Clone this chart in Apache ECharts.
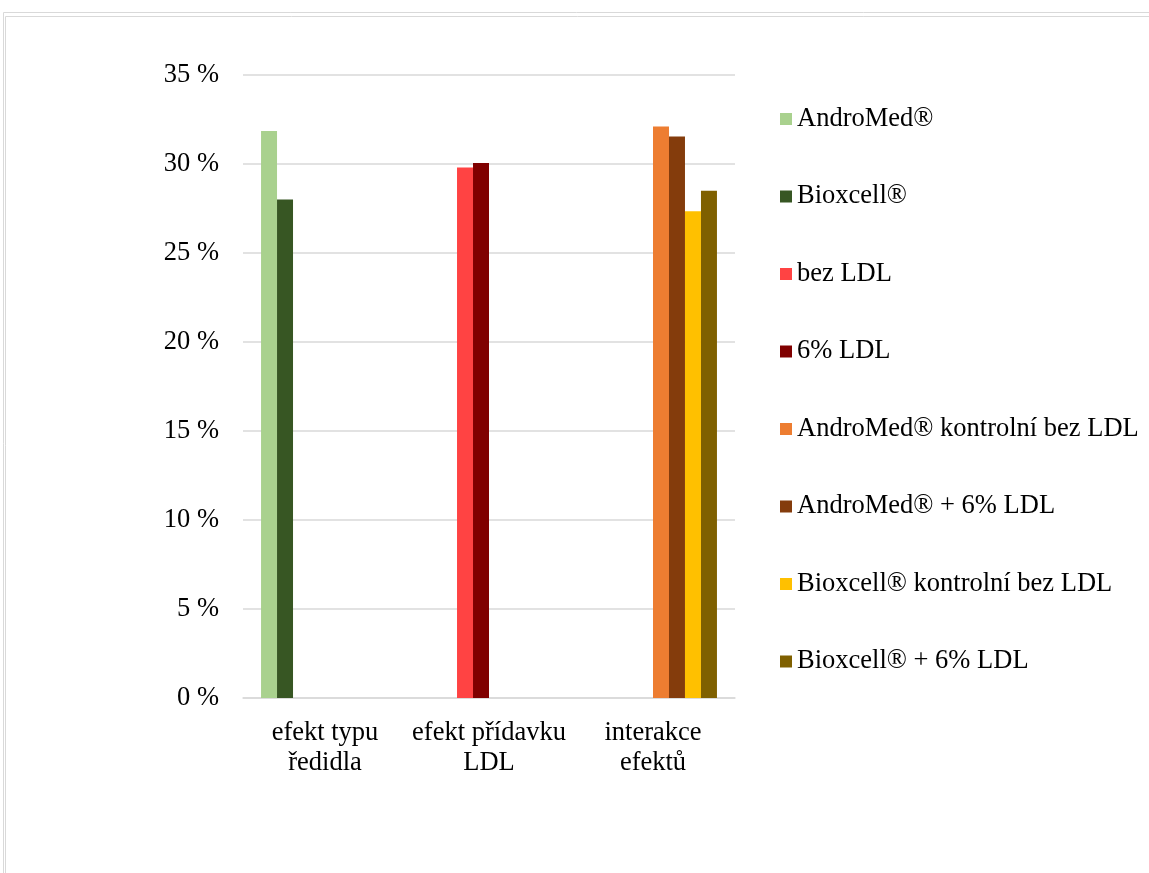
<!DOCTYPE html>
<html>
<head>
<meta charset="utf-8">
<script src="https://cdn.jsdelivr.net/npm/echarts@6/dist/echarts.min.js"></script>
<style>
  html, body { margin: 0; padding: 0; background: #fff; }
  #chart { width: 1149px; height: 873px; }
</style>
</head>
<body>
<div id="chart"></div>
<script>
const categories = ['efekt typu\nředidla', 'efekt přídavku\nLDL', 'interakce\nefektů']
const seriesNames = [
  'AndroMed®',
  'Bioxcell®',
  'bez LDL',
  '6% LDL',
  'AndroMed® kontrolní bez LDL',
  'AndroMed® + 6% LDL',
  'Bioxcell® kontrolní bez LDL',
  'Bioxcell® + 6% LDL'
]
const seriesColors = ['#A9D18E', '#375623', '#FF4343', '#800000', '#ED7D31', '#843C0C', '#FFC000', '#7F6000']
// values in %, one per category (null = no bar)
const andromed = [31.85, null, null]
const bioxcell = [28.0, null, null]
const bezLdl = [null, 29.8, null]
const ldl6 = [null, 30.05, null]
const andromedKontrol = [null, null, 32.1]
const andromedLdl = [null, null, 31.55]
const bioxcellKontrol = [null, null, 27.35]
const bioxcellLdl = [null, null, 28.5]
const yTicks = [0, 5, 10, 15, 20, 25, 30, 35]

const seriesData = [andromed, bioxcell, bezLdl, ldl6, andromedKontrol, andromedLdl, bioxcellKontrol, bioxcellLdl]

const font = '"Liberation Serif", "DejaVu Serif", serif'
const fs = 26.5
const chart = echarts.init(document.getElementById('chart'))

chart.setOption({
  animation: false,
  textStyle: { fontFamily: font },
  graphic: [
    { type: 'rect', shape: { x: 3.5, y: 12.5, width: 1200, height: 900 }, style: { fill: 'none', stroke: '#d9d9d9', lineWidth: 1 } },
    { type: 'rect', shape: { x: 5.5, y: 16.5, width: 1200, height: 900 }, style: { fill: 'none', stroke: '#d9d9d9', lineWidth: 1 } }
  ],
  grid: { left: 243, right: 1149 - 735, top: 75, bottom: 873 - 698 },
  legend: {
    orient: 'vertical',
    left: 775,
    top: 99,
    itemWidth: 12,
    itemHeight: 12,
    itemGap: 47.5,
    icon: 'rect',
    data: seriesNames,
    textStyle: { fontFamily: font, fontSize: fs, color: '#000', lineHeight: 30 }
  },
  xAxis: {
    type: 'category',
    data: categories,
    axisTick: { show: false },
    axisLine: { lineStyle: { color: '#d9d9d9', width: 1.5 } },
    axisLabel: { interval: 0, fontFamily: font, fontSize: fs, color: '#000', lineHeight: 30, margin: 20 }
  },
  yAxis: {
    type: 'value',
    min: yTicks[0],
    max: yTicks[yTicks.length - 1],
    interval: 5,
    axisLine: { show: false },
    axisTick: { show: false },
    splitLine: { lineStyle: { color: '#d9d9d9', width: 1.5 } },
    axisLabel: { fontFamily: font, fontSize: fs, color: '#000', margin: 24, formatter: '{value} %' }
  },
  series: seriesNames.map((name, i) => ({
    name,
    type: 'bar',
    data: seriesData[i],
    barGap: '0%',
    barCategoryGap: '22%',
    itemStyle: { color: seriesColors[i] }
  }))
})
</script>
</body>
</html>
